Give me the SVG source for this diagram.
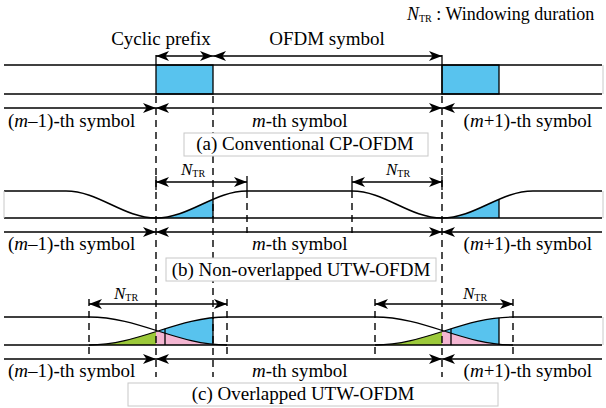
<svg xmlns="http://www.w3.org/2000/svg" width="606" height="408" viewBox="0 0 606 408">
<defs>
<marker id="ah" markerUnits="userSpaceOnUse" markerWidth="15" markerHeight="12" refX="13" refY="6" viewBox="0 0 15 12" orient="auto-start-reverse">
<path d="M13,6 L0,1 L3.5,6 L0,11 Z" fill="#000"/>
</marker>
<style>
.ln{stroke:#000;stroke-width:1.6;fill:none}
.thin{stroke:#000;stroke-width:1.3;fill:none}
.dash{stroke:#000;stroke-width:1.4;stroke-dasharray:7,5;fill:none}
.edge{stroke:#c8c8c8;stroke-width:1;fill:none}
.arr{stroke:#000;stroke-width:1.4;fill:none}
.box{fill:#fff;stroke:#c8c8c8;stroke-width:1}
.blue{fill:#58C3EE}
.green{fill:#9CC93A}
.pink{fill:#F4B6D2}
text{font-family:"Liberation Serif","Times New Roman",serif;font-size:19px;fill:#000}
.nl{font-size:17px}
.sub{font-size:10px}
.it{font-style:italic}
</style>
</defs>

<!-- legend -->
<text x="407" y="20" style="font-size:18px"><tspan class="it">N</tspan><tspan class="sub" dy="2">TR</tspan><tspan dy="-2"> : Windowing duration</tspan></text>

<!-- fills -->
<g id="fills">
<rect class="blue" x="156" y="65" width="57" height="29"/>
<rect class="blue" x="442" y="65" width="57" height="29"/>
<polygon class="blue" points="156,218 165,217.35 175,215.2 185,211.8 195,207.5 205,202.9 213,199.3 213,218"/>
<polygon class="blue" points="442,218 451,217.35 461,215.2 471,211.8 481,207.5 491,202.9 499,199.3 499,218"/>
<polygon class="green" points="89,345 100,344.56 110,343.43 120,341.66 130,339.32 140,336.57 150,333.54 156,331.64 156,345"/>
<polygon class="pink" points="156,345 156,331.64 158,331 165,333.22 175,336.29 185,339.08 195,341.44 205,343.29 213,344.3 213,345"/>
<polygon class="blue" points="158,331 165,328.78 175,325.71 185,322.92 195,320.56 205,318.71 213,317.7 213,344.3 205,343.29 195,341.44 185,339.08 175,336.29 165,333.22"/>
<polygon class="green" points="375,345 386,344.56 396,343.43 406,341.66 416,339.32 426,336.57 436,333.54 442,331.64 442,345"/>
<polygon class="pink" points="442,345 442,331.64 444,331 451,333.22 461,336.29 471,339.08 481,341.44 491,343.29 499,344.3 499,345"/>
<polygon class="blue" points="444,331 451,328.78 461,325.71 471,322.92 481,320.56 491,318.71 499,317.7 499,344.3 491,343.29 481,341.44 471,339.08 461,336.29 451,333.22"/>
</g>

<!-- dashed guide lines -->
<g id="guides">
<line class="dash" x1="156" y1="96" x2="156" y2="377"/>
<line class="dash" x1="213" y1="96" x2="213" y2="377"/>
<line class="dash" x1="442" y1="96" x2="442" y2="377"/>
<line class="dash" x1="247" y1="191" x2="247" y2="233"/>
<line class="dash" x1="352" y1="191" x2="352" y2="233"/>
<line class="dash" x1="89" y1="299" x2="89" y2="354"/>
<line class="dash" x1="227" y1="299" x2="227" y2="354"/>
<line class="dash" x1="375" y1="299" x2="375" y2="354"/>
<line class="dash" x1="513" y1="299" x2="513" y2="354"/>
</g>

<!-- (a) conventional CP-OFDM -->
<g id="waveform-a">
<line class="ln" x1="4" y1="65" x2="602" y2="65"/>
<line class="ln" x1="4" y1="94" x2="602" y2="94"/>
<line class="edge" x1="603" y1="65" x2="603" y2="94"/>
<rect x="156" y="65" width="57" height="29" class="thin"/>
<rect x="442" y="65" width="57" height="29" class="thin"/>
<line class="thin" x1="156" y1="55" x2="156" y2="65"/>
<line class="thin" x1="442" y1="55" x2="442" y2="94"/>
</g>

<!-- (b) non-overlapped UTW-OFDM -->
<g id="waveform-b">
<path class="ln" d="M4,191 H66 C98.8,191 123.2,218 156,218 C189.1,218 213.9,191 247,191 H352 C384.8,191 409.2,218 442,218 C475.1,218 499.9,191 533,191 H602"/>
<line class="ln" x1="4" y1="218" x2="602" y2="218"/>
<line class="edge" x1="4" y1="191" x2="4" y2="218"/>
<line class="edge" x1="603" y1="191" x2="603" y2="218"/>
<line class="thin" x1="213" y1="199.3" x2="213" y2="218"/>
<line class="thin" x1="499" y1="199.3" x2="499" y2="218"/>
<line class="thin" x1="156" y1="176" x2="156" y2="190"/>
<line class="thin" x1="247" y1="176" x2="247" y2="191"/>
<line class="thin" x1="352" y1="176" x2="352" y2="191"/>
<line class="thin" x1="442" y1="176" x2="442" y2="190"/>
</g>

<!-- (c) overlapped UTW-OFDM -->
<g id="waveform-c">
<path class="ln" d="M4,317 H89 M227,317 H375 M513,317 H602"/>
<line class="ln" x1="4" y1="345" x2="602" y2="345"/>
<line class="edge" x1="603" y1="317" x2="603" y2="345"/>
<path class="thin" d="M89,317 C139.3,317 176.7,345 227,345 M89,345 C139.3,345 176.7,317 227,317"/>
<path class="thin" d="M375,317 C425.3,317 462.7,345 513,345 M375,345 C425.3,345 462.7,317 513,317"/>
<line class="thin" x1="165" y1="328.8" x2="165" y2="345"/>
<line class="thin" x1="213" y1="317.7" x2="213" y2="345"/>
<line class="thin" x1="451" y1="328.8" x2="451" y2="345"/>
<line class="thin" x1="499" y1="317.7" x2="499" y2="345"/>
</g>

<!-- connectors / dimension arrows -->
<g id="connectors">
<line class="arr" x1="156" y1="56" x2="213" y2="56" marker-start="url(#ah)" marker-end="url(#ah)"/>
<line class="arr" x1="213" y1="56" x2="442" y2="56" marker-start="url(#ah)" marker-end="url(#ah)"/>
<line class="arr" x1="4" y1="108" x2="156" y2="108" marker-end="url(#ah)"/>
<line class="arr" x1="156" y1="108" x2="442" y2="108" marker-start="url(#ah)" marker-end="url(#ah)"/>
<line class="arr" x1="442" y1="108" x2="602" y2="108" marker-start="url(#ah)"/>
<line class="arr" x1="156" y1="182" x2="247" y2="182" marker-start="url(#ah)" marker-end="url(#ah)"/>
<line class="arr" x1="352" y1="182" x2="442" y2="182" marker-start="url(#ah)" marker-end="url(#ah)"/>
<line class="arr" x1="4" y1="232" x2="156" y2="232" marker-end="url(#ah)"/>
<line class="arr" x1="156" y1="232" x2="442" y2="232" marker-start="url(#ah)" marker-end="url(#ah)"/>
<line class="arr" x1="442" y1="232" x2="602" y2="232" marker-start="url(#ah)"/>
<line class="arr" x1="89" y1="304" x2="227" y2="304" marker-start="url(#ah)" marker-end="url(#ah)"/>
<line class="arr" x1="375" y1="304" x2="513" y2="304" marker-start="url(#ah)" marker-end="url(#ah)"/>
<line class="arr" x1="4" y1="359" x2="156" y2="359" marker-end="url(#ah)"/>
<line class="arr" x1="156" y1="359" x2="442" y2="359" marker-start="url(#ah)" marker-end="url(#ah)"/>
<line class="arr" x1="442" y1="359" x2="602" y2="359" marker-start="url(#ah)"/>
</g>

<!-- labels -->
<g id="labels">
<text x="161" y="45" text-anchor="middle">Cyclic prefix</text>
<text x="327" y="45" text-anchor="middle">OFDM symbol</text>
<text x="8" y="127">(<tspan class="it">m</tspan>–1)-th symbol</text>
<text x="252" y="127"><tspan class="it">m</tspan>-th symbol</text>
<text x="592" y="127" text-anchor="end">(<tspan class="it">m</tspan>+1)-th symbol</text>
<text class="nl" x="181" y="175"><tspan class="it">N</tspan><tspan class="sub" dy="2">TR</tspan></text>
<text class="nl" x="386" y="175"><tspan class="it">N</tspan><tspan class="sub" dy="2">TR</tspan></text>
<text x="8" y="250">(<tspan class="it">m</tspan>–1)-th symbol</text>
<text x="252" y="250"><tspan class="it">m</tspan>-th symbol</text>
<text x="592" y="250" text-anchor="end">(<tspan class="it">m</tspan>+1)-th symbol</text>
<text class="nl" x="114" y="299"><tspan class="it">N</tspan><tspan class="sub" dy="2">TR</tspan></text>
<text class="nl" x="463" y="299"><tspan class="it">N</tspan><tspan class="sub" dy="2">TR</tspan></text>
<text x="8" y="377">(<tspan class="it">m</tspan>–1)-th symbol</text>
<text x="252" y="377"><tspan class="it">m</tspan>-th symbol</text>
<text x="592" y="377" text-anchor="end">(<tspan class="it">m</tspan>+1)-th symbol</text>
</g>

<!-- caption boxes -->
<g id="caption-a">
<rect class="box" x="184" y="133" width="244" height="23"/>
<text x="305" y="150" text-anchor="middle">(a) Conventional CP-OFDM</text>
</g>
<g id="caption-b">
<rect class="box" x="166" y="258" width="270" height="23"/>
<text x="301" y="276" text-anchor="middle">(b) Non-overlapped UTW-OFDM</text>
</g>
<g id="caption-c">
<rect class="box" x="128" y="383" width="370" height="23"/>
<text x="303" y="400" text-anchor="middle">(c) Overlapped UTW-OFDM</text>
</g>
</svg>
